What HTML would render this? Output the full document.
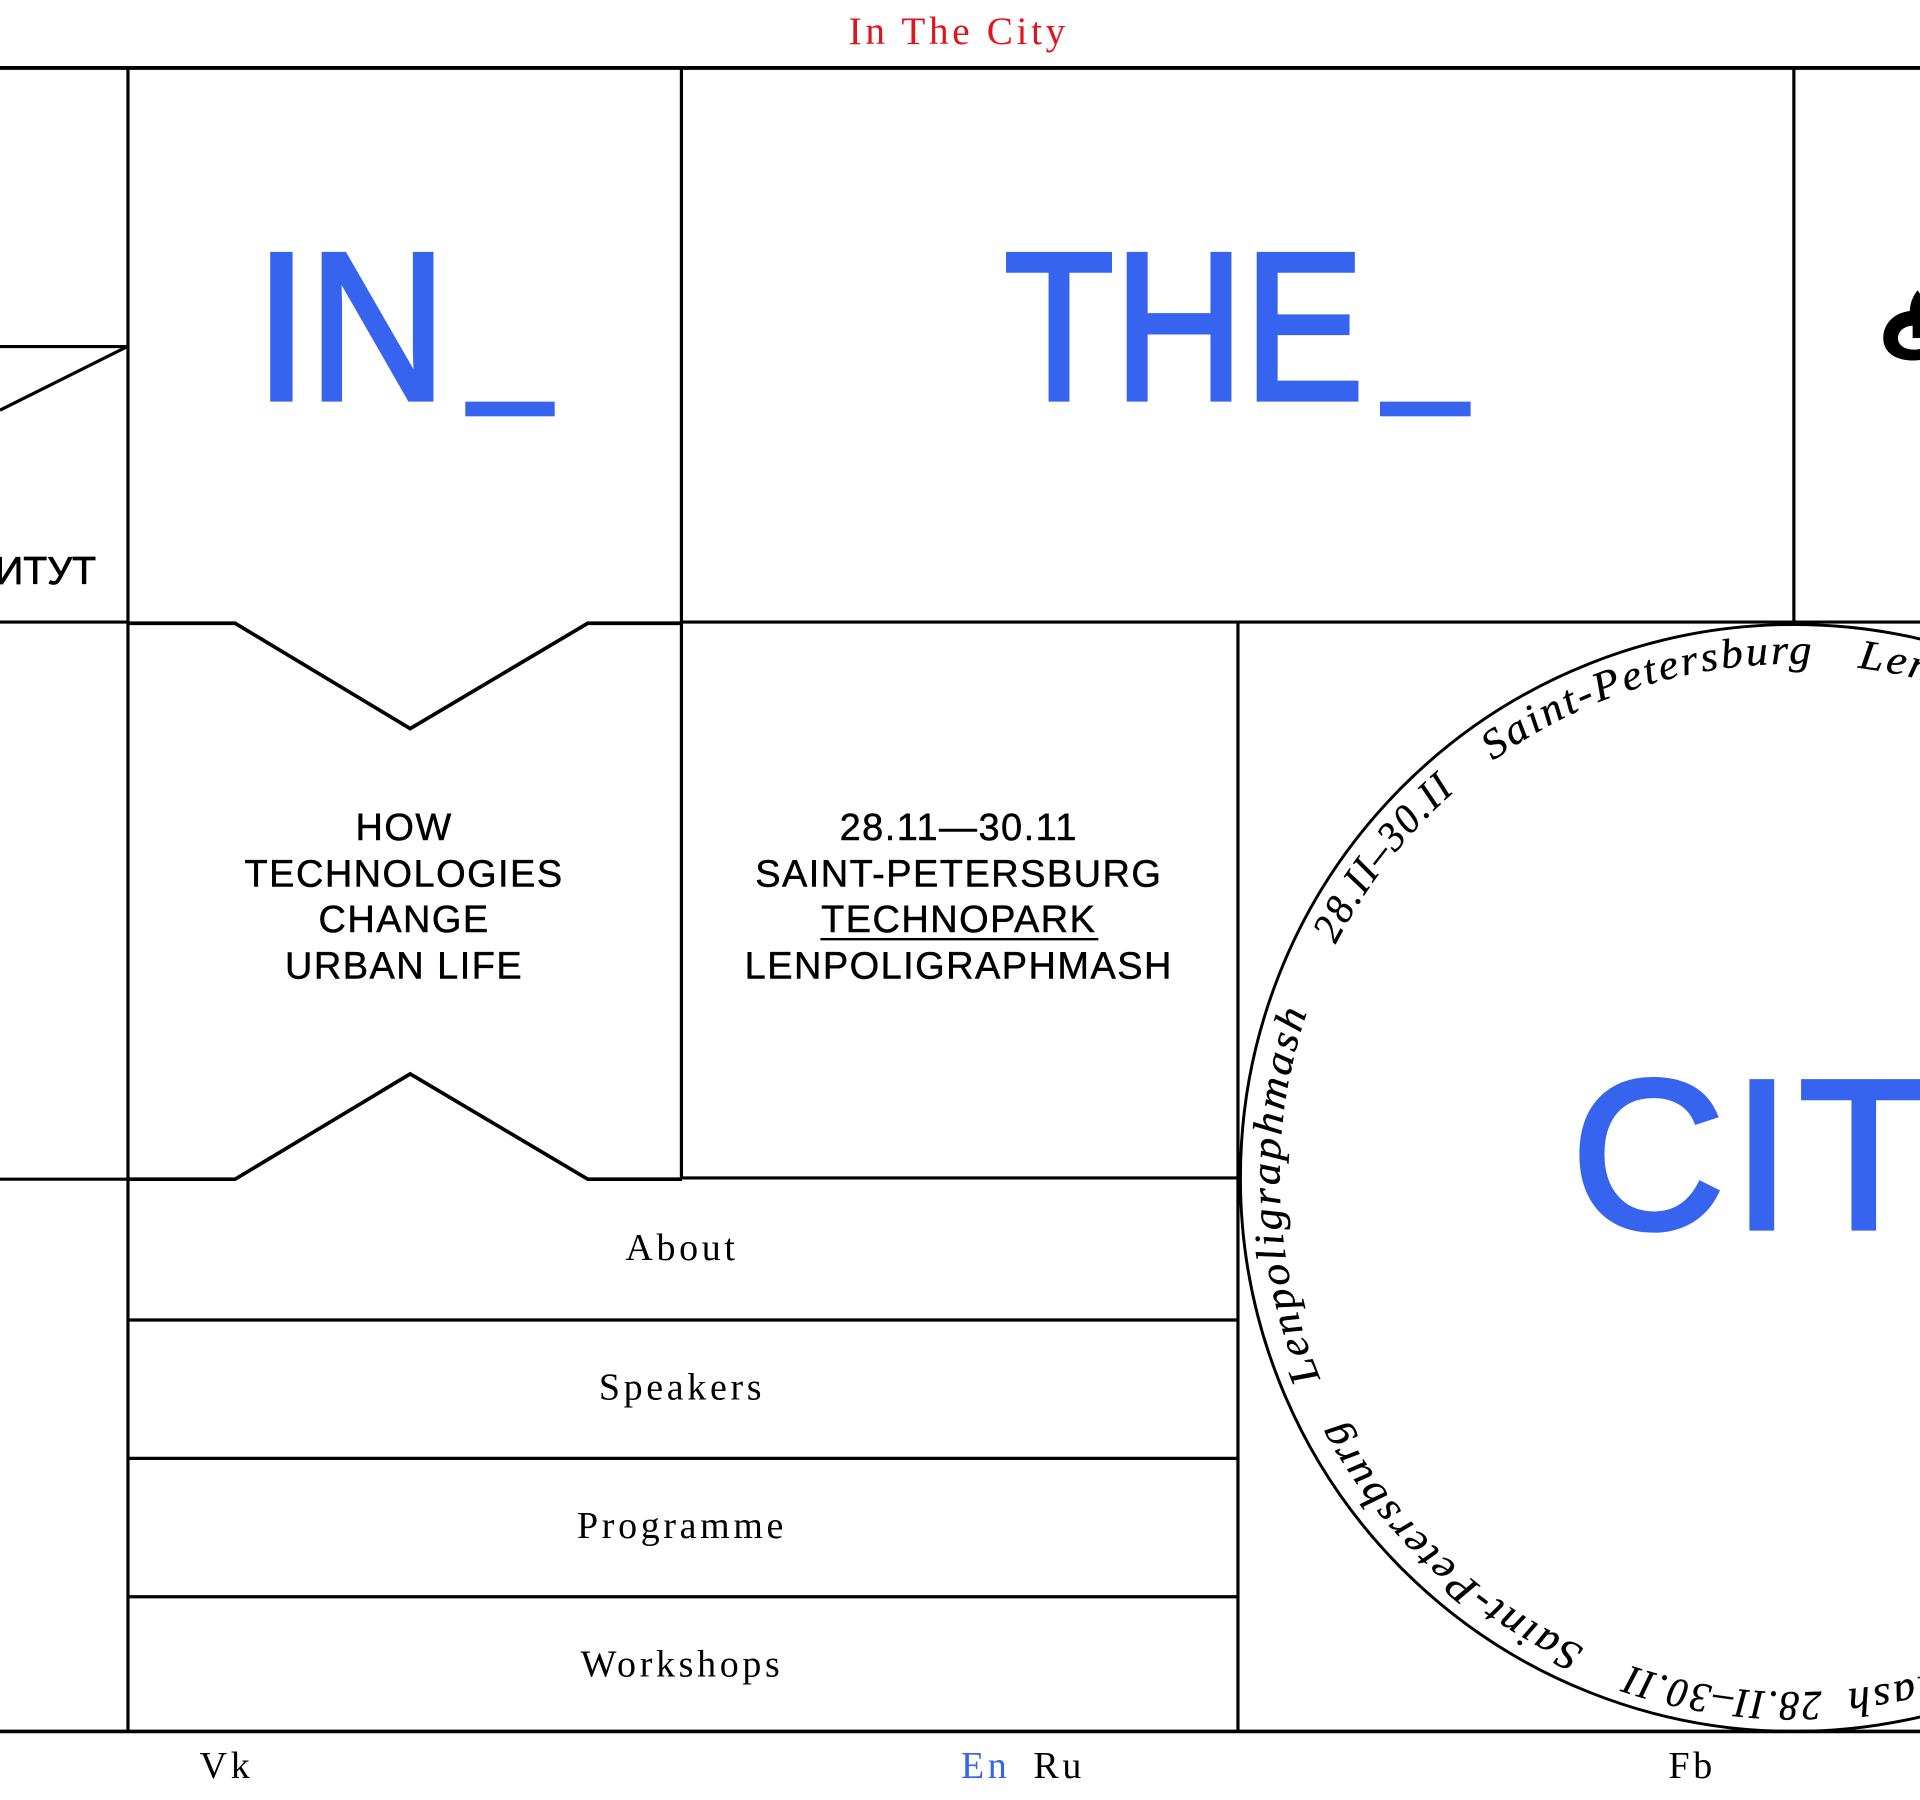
<!DOCTYPE html>
<html><head><meta charset="utf-8"><style>
html,body{margin:0;padding:0;background:#fff;width:1920px;height:1800px;overflow:hidden}
svg{display:block}
.sans{font-family:"Liberation Sans","DejaVu Sans",sans-serif}
.serif{font-family:"Liberation Serif","DejaVu Serif",serif}
</style></head><body>
<svg width="1920" height="1800" viewBox="0 0 1568 1470" preserveAspectRatio="none" xmlns="http://www.w3.org/2000/svg">
<defs>
<path id="circ" d="M1885 962 A420 420 0 1 1 1045 962 A420 420 0 1 1 1885 962 A420 420 0 1 1 1045 962 A420 420 0 1 1 1885 962"/>
</defs>
<g fill="none" stroke="#000" stroke-width="2.6">
<line x1="0" y1="55.5" x2="1568" y2="55.5" stroke-width="3.2"/>
<line x1="0" y1="1414" x2="1568" y2="1414" stroke-width="3"/>
<line x1="104.5" y1="55" x2="104.5" y2="1414"/>
<line x1="556.5" y1="55" x2="556.5" y2="963"/>
<line x1="1465" y1="55" x2="1465" y2="508"/>
<line x1="1011" y1="508" x2="1011" y2="1414"/>
<line x1="0" y1="508" x2="104" y2="508"/>
<line x1="556" y1="508" x2="1568" y2="508"/>
<polyline points="104,509 192,509 335,595 480,509 557,509" stroke-width="3"/>
<polyline points="104,963 192,963 335,877 480,963 557,963" stroke-width="3"/>
<line x1="0" y1="963" x2="104" y2="963"/>
<line x1="556" y1="962" x2="1011" y2="962"/>
<line x1="104" y1="1078" x2="1011" y2="1078"/>
<line x1="104" y1="1191" x2="1011" y2="1191"/>
<line x1="104" y1="1304" x2="1011" y2="1304"/>
<polyline points="0,283 104,283 0,335" stroke-width="2.6"/>
<circle cx="1465" cy="962" r="452" stroke-width="2.4"/>
</g>
<path d="M1568 254 C1548 252 1538 264 1538 276 C1538 290 1552 296 1568 294 L1568 285 C1558 287 1550 283 1550 276 C1550 270 1556 266 1562 266 L1562 276 L1568 276 Z" fill="#000"/>
<path d="M1566 237 C1559 246 1558 256 1562 266 L1568 266 L1568 240 Z" fill="#000"/>
<text x="783" y="36" text-anchor="middle" class="serif" font-size="32" fill="#e0141c" letter-spacing="3">In The City</text>
<g fill="#3764ef" stroke="#3764ef" stroke-width="4">
<text x="208" y="326" class="sans" font-size="172" textLength="157" lengthAdjust="spacingAndGlyphs">IN</text>
<text x="820" y="326" class="sans" font-size="172" textLength="294" lengthAdjust="spacingAndGlyphs">THE</text>
<text x="1283" y="1003" class="sans" font-size="174" letter-spacing="6">CITY</text>
</g>
<rect x="380" y="328" width="73" height="12" fill="#3764ef"/>
<rect x="1127" y="328" width="74" height="12" fill="#3764ef"/>
<text x="-4" y="477" class="sans" font-size="32" fill="#000" stroke="#000" stroke-width="0.6">ИТУТ</text>
<g class="sans" font-size="31" fill="#000" stroke="#000" stroke-width="0.4" text-anchor="middle" letter-spacing="1.2">
<text x="330" y="686">HOW</text>
<text x="330" y="724">TECHNOLOGIES</text>
<text x="330" y="761">CHANGE</text>
<text x="330" y="799">URBAN LIFE</text>
<text x="783" y="686">28.11—30.11</text>
<text x="783" y="724">SAINT-PETERSBURG</text>
<text x="783" y="761">TECHNOPARK</text>
<text x="783" y="799">LENPOLIGRAPHMASH</text>
</g>
<line x1="670" y1="767" x2="897" y2="767" stroke="#000" stroke-width="2"/>
<g class="serif" font-size="31" fill="#000" text-anchor="middle" letter-spacing="3">
<text x="557" y="1029">About</text>
<text x="557" y="1143">Speakers</text>
<text x="557" y="1256">Programme</text>
<text x="557" y="1369">Workshops</text>
<text x="185" y="1452">Vk</text>
<text x="805" y="1452" fill="#3764ef">En</text>
<text x="865" y="1452">Ru</text>
<text x="1382" y="1452">Fb</text>
</g>
<g class="serif" font-size="34" font-style="italic" fill="#000" stroke="#000" stroke-width="0.3" letter-spacing="2">
<text><textPath href="#circ" startOffset="836" textLength="279" lengthAdjust="spacingAndGlyphs">Saint-Petersburg</textPath></text>
<text><textPath href="#circ" startOffset="1151" textLength="308" lengthAdjust="spacingAndGlyphs">Lenpoligraphmash</textPath></text>
<text><textPath href="#circ" startOffset="1517" textLength="161" lengthAdjust="spacingAndGlyphs">28.II–30.II</textPath></text>
<text><textPath href="#circ" startOffset="1716" textLength="279" lengthAdjust="spacingAndGlyphs">Saint-Petersburg</textPath></text>
<text><textPath href="#circ" startOffset="2031" textLength="308" lengthAdjust="spacingAndGlyphs">Lenpoligraphmash</textPath></text>
<text><textPath href="#circ" startOffset="2397" textLength="161" lengthAdjust="spacingAndGlyphs">28.II–30.II</textPath></text>
<text><textPath href="#circ" startOffset="2595" textLength="279" lengthAdjust="spacingAndGlyphs">Saint-Petersburg</textPath></text>
<text><textPath href="#circ" startOffset="310" textLength="308" lengthAdjust="spacingAndGlyphs">Lenpoligraphmash</textPath></text>
<text><textPath href="#circ" startOffset="637" textLength="161" lengthAdjust="spacingAndGlyphs">28.II–30.II</textPath></text>
</g>
</svg>
</body></html>
